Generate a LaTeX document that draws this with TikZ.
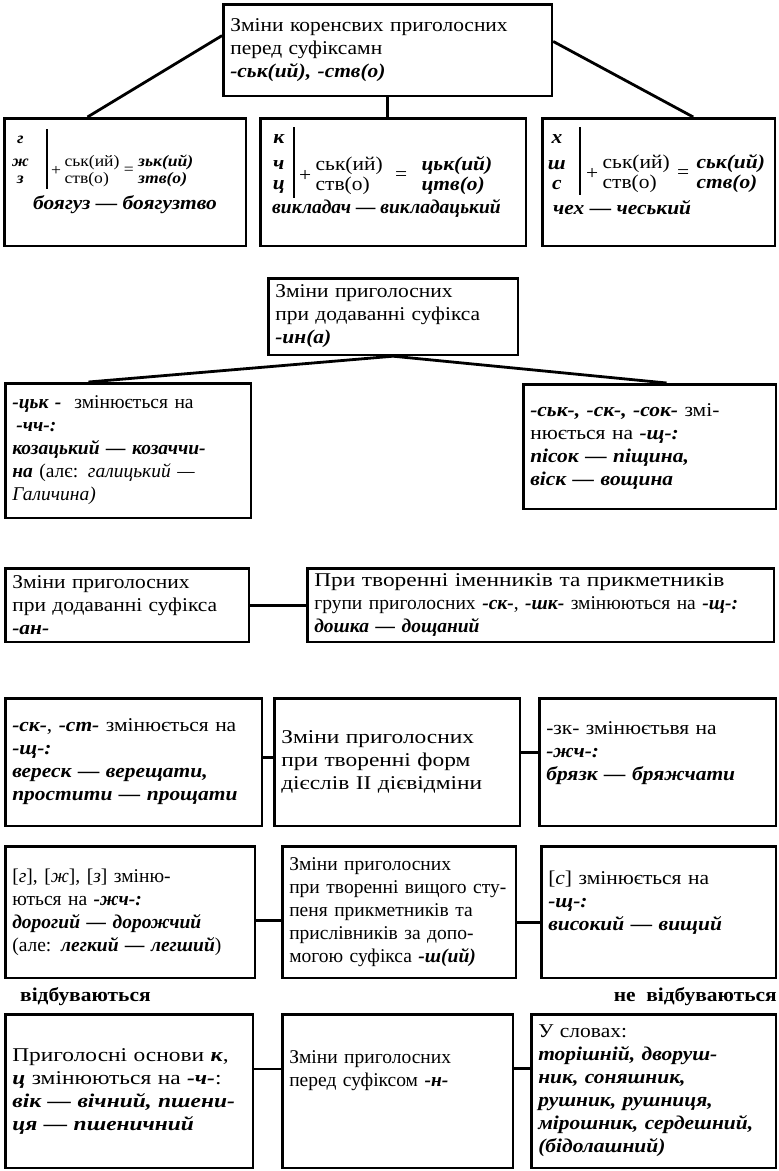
\documentclass[tikz,border=0pt]{standalone}
\usepackage{fontspec}
\setmainfont{Liberation Serif}[FakeStretch=1.1]
\newfontfamily\plainfont{Liberation Serif}
\newfontfamily\widefont{Liberation Serif}[FakeStretch=1.2]
\usetikzlibrary{positioning}

\newcommand\ex[1]{\textbf{\textit{#1}}}
\newcommand\fs{\fontsize{19.5}{23}\selectfont}
\newcommand\fsk{\fontsize{19.5}{20}\selectfont}
\newcommand\fsa{\fontsize{16}{17}\selectfont}

\begin{document}
\begin{tikzpicture}[x=1pt, y=-1pt,
        box/.style={draw, line width=2.6pt, inner xsep=7pt, inner ysep=2pt, align=left, anchor=north west, font=\fs},
        link/.style={line width=2.8pt},
        bar/.style={line width=1.2pt},
        lett/.style={align=center, inner xsep=9pt, inner ysep=1pt, font=\fsk\bfseries\itshape},
        sym/.style={inner sep=1pt, font=\fs},
        stk/.style={align=left, inner sep=1pt, font=\fsk},
        tag/.style={inner sep=0pt, font=\fs\bfseries},
    ]
    \useasboundingbox (0,0) rectangle (779,1171);

    % changes before -ськ(ий), -ств(о)
    \node[box, text width=314.6pt, minimum height=91.6pt] (tb) at (222,3)
        {Зміни коренсвих приголосних\\перед суфіксамн\\\ex{-ськ(ий), -ств(о)}};

    \node[box, text width=227.6pt, minimum height=127.6pt] (rA) at (3,117) {};
    \node[box, text width=251.6pt, minimum height=127.6pt] (rB) at (259,117) {};
    \node[box, text width=218.6pt, minimum height=127.6pt] (rC) at (541,117) {};

    \draw[link] (tb.175) -- (rA.120);
    \draw[link] (tb.south) -- (tb.south |- rB.north);
    \draw[link] (tb.3) -- (rC.62);

    % г ж з
    \node[lett, inner xsep=18pt, font=\fsa\bfseries\itshape, anchor=north east] (kA) at (47,135) {г\\[6pt]ж\\з};
    \draw[bar] ([yshift=6pt]kA.north east) -- ([yshift=-4pt]kA.south east);
    \node[sym, font=\fsa, anchor=west, xshift=3pt] (pA) at ([yshift=-11pt]kA.east) {+};
    \node[stk, font=\fsa, right=1pt of pA] (sA) {ськ(ий)\\ств(о)};
    \node[sym, font=\fsa, right=2pt of sA] (eA) {=};
    \node[stk, font=\fsa\bfseries\itshape, right=2pt of eA] (zA) {зьк(ий)\\зтв(о)};
    \node[sym, font=\fs\bfseries\itshape] (xA) at (125,205) {боягуз — боягузтво};

    % к ч ц
    \node[lett, anchor=north east] (kB) at (294,133) {к\\[6pt]ч\\ц};
    \draw[bar] ([yshift=6pt]kB.north east) -- ([yshift=-4pt]kB.south east);
    \node[sym, anchor=west, xshift=4pt] (pB) at ([yshift=-12pt]kB.east) {+};
    \node[stk, right=2pt of pB] (sB) {ськ(ий)\\ств(о)};
    \node[sym, right=10pt of sB] (eB) {=};
    \node[stk, font=\fsk\bfseries\itshape, right=12pt of eB] (zB) {цьк(ий)\\цтв(о)};
    \node[sym, font=\plainfont\fs\bfseries\itshape, anchor=west] (xB) at (271,208) {викладач — викладацький};

    % х ш с
    \node[lett, inner xsep=14pt, anchor=north east] (kC) at (580,133) {х\\[6pt]ш\\с};
    \draw[bar] ([yshift=6pt]kC.north east) -- ([yshift=-4pt]kC.south east);
    \node[sym, anchor=west, xshift=5pt] (pC) at ([yshift=-12pt]kC.east) {+};
    \node[stk, right=2pt of pC] (sC) {ськ(ий)\\ств(о)};
    \node[sym, right=5pt of sC] (eC) {=};
    \node[stk, font=\fsk\bfseries\itshape, right=5pt of eC] (zC) {ськ(ий)\\ств(о)};
    \node[sym, font=\fs\bfseries\itshape, anchor=west] (xC) at (552,208) {чех — чеський};

    % suffix -ин(а)
    \node[box, text width=235.6pt, minimum height=76.6pt] (t2) at (267,277)
        {Зміни приголосних\\при додаванні суфікса\\\ex{-ин(а)}};
    \node[box, font=\plainfont\fs, text width=231.6pt, minimum height=134.6pt] (l2) at (4,382)
        {\ex{-цьк -}\ \ змінюється на\\\hspace*{4pt}\ex{-чч-:}\\\ex{козацький — козаччи-}\\\ex{на} (алє: \textit{галицький —}\\\textit{Галичина)}};
    \node[box, text width=238.6pt, minimum height=124.6pt] (r2) at (522,383)
        {\ex{-ськ-, -ск-, -сок-} змі-\\нюється на \ex{-щ-:}\\\ex{пісок — піщина,}\\\ex{віск — вощина}};
    \draw[link] (t2.south) -- (l2.120);
    \draw[link] (t2.south) -- (r2.75);

    % suffix -ан-
    \node[box, text width=229.6pt, minimum height=73.6pt] (l3) at (4,567)
        {Зміни приголосних\\при додаванні суфікса\\\ex{-ан-}};
    \node[box, font=\plainfont\fs, text width=452.6pt, minimum height=73.6pt] (r3) at (306,567)
        {{\widefont При творенні іменників та прикметників}\\групи приголосних \ex{-ск-}, \ex{-шк-} змінюються на \ex{-щ-:}\\\ex{дошка — дощаний}};
    \draw[link] (l3) -- (r3);

    % verbs, II conjugation
    \node[box, text width=242.6pt, minimum height=127.6pt] (l4) at (4,697)
        {\ex{-ск-}, \ex{-ст-} змінюється на\\\ex{-щ-:}\\\ex{вереск — верещати,}\\\ex{простити — прощати}};
    \node[box, font=\widefont\fs, text width=231.6pt, minimum height=127.6pt] (m4) at (273,697)
        {Зміни приголосних\\при творенні форм\\дієслів II дієвідміни};
    \node[box, text width=222.6pt, minimum height=127.6pt] (r4) at (538,697)
        {-зк- змінюєтьвя на\\\ex{-жч-:}\\\ex{брязк — бряжчати}\\\mbox{}};
    \draw[link] ([yshift=5pt]l4.east) -- ([yshift=5pt]m4.west);
    \draw[link] ([yshift=10pt]m4.east) -- ([yshift=10pt]r4.west);

    % comparative degree
    \node[box, font=\plainfont\fs, text width=235.6pt, minimum height=131.6pt] (l5) at (4,845)
        {[\textit{г}], [\textit{ж}], [\textit{з}] зміню-\\ються на \ex{-жч-:}\\\ex{дорогий — дорожчий}\\(але: \ex{легкий — легший})};
    \node[box, font=\plainfont\fs, text width=219.6pt, minimum height=131.6pt] (m5) at (281,845)
        {Зміни приголосних\\при творенні вищого сту-\\пеня прикметників та\\прислівників за допо-\\могою суфікса \ex{-ш(ий)}};
    \node[box, text width=220.6pt, minimum height=131.6pt] (r5) at (540,845)
        {[\textit{с}] змінюється на\\\ex{-щ-:}\\\ex{високий — вищий}\\\mbox{}};
    \draw[link] ([yshift=-8pt]l5.east) -- ([yshift=-8pt]m5.west);
    \draw[link] ([yshift=-10pt]m5.east) -- ([yshift=-10pt]r5.west);

    \node[tag, anchor=west] (yes) at (20,997) {відбуваються};
    \node[tag, anchor=east] (no) at (777,997) {не\ \ відбуваються};

    % suffix -н-
    \node[box, font=\widefont\fs, text width=233.6pt, minimum height=153.6pt] (l6) at (4,1013)
        {Приголосні основи \ex{к},\\\ex{ц} змінюються на \ex{-ч-}:\\\ex{вік — вічний, пшени-}\\\ex{ця — пшеничний}};
    \node[box, font=\plainfont\fs, text width=216.6pt, minimum height=153.6pt] (m6) at (281,1013)
        {Зміни приголосних\\перед суфіксом \ex{-н-}\\\mbox{}\\\mbox{}};
    \node[box, text width=230.6pt, minimum height=153.6pt] (r6) at (530,1013)
        {У словах:\\\ex{торішній, дворуш-}\\\ex{ник, соняшник,}\\\ex{рушник, рушниця,}\\\ex{мірошник, сердешний,}\\\ex{(бідолашний)}};
    \draw[link] (l6.10) -- (l6.10 -| m6.west);
    \draw[link] (m6.11) -- (m6.11 -| r6.west);

\end{tikzpicture}
\end{document}
